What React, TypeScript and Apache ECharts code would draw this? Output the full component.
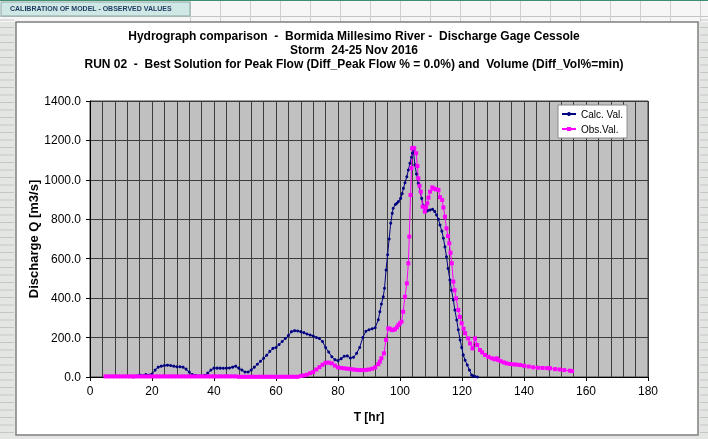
import React, { useEffect, useRef } from 'react';
import * as echarts from 'echarts';

const titleLines = [
  'Hydrograph comparison  -  Bormida Millesimo River -  Discharge Gage Cessole',
  'Storm  24-25 Nov 2016',
  'RUN 02  -  Best Solution for Peak Flow (Diff_Peak Flow % = 0.0%) and  Volume (Diff_Vol%=min)',
];
const sheetTab = 'CALIBRATION OF MODEL - OBSERVED VALUES';
const seriesNames = ['Calc. Val.', 'Obs.Val.'];
const xAxisTitle = 'T [hr]';
const yAxisTitle = 'Discharge Q [m3/s]';

const calcT = [14,15,16,18,20,21,22,23,24,25,26,27,28,29,30,31,32,33,34,35,36,37,38,39,40,41,42,43,44,45,46,47,48,49,50,51,52,53,54,55,56,57,58,59,60,61,62,63,64,65,66,67,68,69,70,71,72,73,74,75,76,77,78,79,80,81,82,83,84,85,86,87,88,89,90,91,92,93,93.5,94,94.6,95,95.5,96,96.5,97,97.5,97.8,98.5,99,99.5,100.2,100.7,101.1,101.6,102.2,102.7,103.2,103.7,104,104.3,104.8,105.3,105.9,106.5,107,107.5,108,108.5,109,109.7,110.5,111.2,111.8,112.4,112.9,113.5,114,114.5,115,115.5,116.1,116.6,117.2,117.7,118.3,118.8,119.4,119.9,120.4,121,121.7,122.4,123.1,123.6,124.2,125];
const calcQ = [0,5,10,12,15,35,50,55,58,60,58,55,52,52,50,40,25,12,8,5,5,8,20,35,45,45,45,44,45,46,50,55,45,35,25,25,35,50,65,80,95,110,130,145,150,165,180,195,210,230,235,233,230,225,218,213,208,200,195,180,150,127,103,88,83,93,105,107,96,100,120,150,200,232,240,245,250,290,331,370,407,450,543,620,700,780,830,856,875,881,890,906,930,957,985,1016,1050,1084,1115,1135,1152,1076,1030,982,940,906,870,839,840,845,847,851,840,822,800,771,740,704,660,610,550,492,440,391,340,289,240,188,150,112,85,61,35,10,5,2,0];

const obsT = [5,6,7,8,9,10,11,12,13,14,15,16,17,18,19,20,21,22,23,24,25,26,27,28,29,30,31,32,33,34,35,36,37,38,39,40,41,42,43,44,45,46,47,48,49,50,51,52,53,54,55,56,57,58,59,60,61,62,63,64,65,66,67,68,69,70,71,72,73,74,75,76,77,78,79,80,81,82,83,84,85,86,87,88,89,90,91,92,93,93.5,94,94.8,95.5,96.2,96.7,97.3,97.8,98.4,99,99.5,100,100.5,101,101.6,102.2,102.7,103,103.4,103.7,103.9,104.2,104.6,105.2,105.6,105.9,106.3,106.7,107.3,108,108.4,108.8,109.2,109.7,110.4,111,111.6,112.4,112.9,113.6,114,114.5,115,115.5,115.9,116.3,116.7,117.2,117.6,118.1,118.8,119.3,119.9,120.5,121,122,122.6,123.4,124.2,124.9,125.8,126.5,127.4,128.5,129.6,130.5,131.2,131.7,132.5,133.5,134.4,135.5,136.5,137.5,138.7,140,141.5,143,144.5,146,147.5,148.4,150,151.5,153,154.8,155.5];
const obsQ = [3,3,3,3,3,3,3,3,3,3,3,3,3,3,3,3,3,3,3,3,3,3,3,3,3,3,3,3,3,3,3,3,3,3,3,3,3,3,3,3,3,3,3,1,1,1,1,1,1,1,1,1,1,1,1,1,1,1,1,1,1,1,1,5,8,12,19,25,38,50,62,72,73,69,58,49,46,44,42,40,38,36,35,35,36,38,42,49,65,78,95,120,188,247,245,238,240,242,252,264,272,281,331,407,475,577,712,923,1060,1160,1162,1160,1135,1070,1008,970,940,864,839,860,881,910,940,962,955,952,949,912,898,860,813,754,715,678,630,577,484,440,399,340,305,272,245,222,196,170,145,196,162,137,125,112,102,95,90,95,86,80,74,69,66,64,63,61,57,53,49,47,46,45,44,40,38,35,32,30];

const FONT = '"Liberation Sans", Arial, sans-serif';
const GRID_COLOR = '#3c3c3c';

function zip(t: number[], q: number[]) {
  return t.map((v, i) => [v, q[i]]);
}

function frameGraphics() {
  const els: any[] = [];
  els.push({ type: 'rect', z: -20, shape: { x: 0, y: 0, width: 708, height: 439 }, style: { fill: '#e4e6e4' } });
  els.push({ type: 'rect', z: -19, shape: { x: 0, y: 0, width: 708, height: 22 }, style: { fill: '#f6f6f6' } });
  els.push({ type: 'line', z: -18, shape: { x1: 0, y1: 0.5, x2: 708, y2: 0.5 }, style: { stroke: '#3f8f6f', lineWidth: 1 } });
  els.push({ type: 'line', z: -18, shape: { x1: 0, y1: 16.5, x2: 708, y2: 16.5 }, style: { stroke: '#c4c4c4', lineWidth: 1 } });
  for (let x = 190; x < 708; x += 30) {
    els.push({ type: 'line', z: -18, shape: { x1: x + 0.5, y1: 1, x2: x + 0.5, y2: 22 }, style: { stroke: '#cfcfcf', lineWidth: 1 } });
  }
  for (let y = 20; y < 439; y += 7.5) {
    els.push({ type: 'line', z: -18, shape: { x1: 0, y1: y, x2: 14, y2: y }, style: { stroke: '#c6c6c6', lineWidth: 1 } });
    els.push({ type: 'line', z: -18, shape: { x1: 700, y1: y, x2: 708, y2: y }, style: { stroke: '#c6c6c6', lineWidth: 1 } });
  }
  els.push({ type: 'rect', z: -17, shape: { x: 1, y: 2, width: 189, height: 14 }, style: { fill: '#cfe8e6', stroke: '#8aa7a5', lineWidth: 1 } });
  els.push({ type: 'text', z: -16, x: 10, y: 5, style: { text: sheetTab, font: 'bold 7px "Liberation Sans", Arial, sans-serif', fill: '#1f3a5f' } });
  els.push({ type: 'rect', z: -15, shape: { x: 16, y: 22, width: 682, height: 413 }, style: { fill: '#ffffff', stroke: '#7f7f7f', lineWidth: 1.5 } });
  return els;
}

export default function App() {
  const ref = useRef<HTMLDivElement>(null);
  useEffect(() => {
    if (!ref.current) return;
    const chart = echarts.init(ref.current, null, { renderer: 'svg' });
    chart.setOption({
      animation: false,
      graphic: { elements: frameGraphics() },
      title: titleLines.map((t, i) => ({
        text: t,
        left: 'center',
        top: [30, 44, 58][i],
        padding: 0,
        textStyle: { fontSize: 12, fontWeight: 'bold', fontFamily: FONT, color: '#000' },
      })),
      legend: {
        orient: 'vertical',
        left: 558,
        top: 105,
        padding: [4, 4, 4, 3],
        itemGap: 5,
        itemWidth: 14,
        itemHeight: 5,
        backgroundColor: '#ffffff',
        borderColor: '#8a8a8a',
        borderWidth: 1,
        borderRadius: 0,
        textStyle: { fontSize: 10, fontFamily: FONT, color: '#000' },
        data: seriesNames,
      },
      grid: {
        left: 90,
        right: 60,
        top: 101,
        bottom: 62,
        show: true,
        backgroundColor: '#c0c0c0',
        borderColor: GRID_COLOR,
        borderWidth: 1,
      },
      xAxis: {
        type: 'value',
        min: 0,
        max: 180,
        interval: 20,
        name: xAxisTitle,
        nameLocation: 'middle',
        nameGap: 34,
        nameTextStyle: { fontSize: 12, fontWeight: 'bold', fontFamily: FONT, color: '#000' },
        axisLine: { show: true, lineStyle: { color: '#000', width: 1 } },
        axisTick: { show: true, length: 4, lineStyle: { color: '#000' } },
        axisLabel: { fontSize: 12, fontFamily: FONT, color: '#000', margin: 8 },
        splitLine: { show: true, lineStyle: { color: GRID_COLOR, width: 1 } },
        minorTick: { show: false, splitNumber: 5 },
        minorSplitLine: { show: true, lineStyle: { color: GRID_COLOR, width: 1 } },
      },
      yAxis: {
        type: 'value',
        min: 0,
        max: 1400,
        interval: 200,
        name: yAxisTitle,
        nameLocation: 'middle',
        nameGap: 50,
        nameMoveOverlap: false,
        nameRotate: 90,
        nameTextStyle: { fontSize: 13, fontWeight: 'bold', fontFamily: FONT, color: '#000' },
        axisLine: { show: true, lineStyle: { color: '#000', width: 1 } },
        axisTick: { show: true, length: 4, lineStyle: { color: '#000' } },
        axisLabel: { fontSize: 12, fontFamily: FONT, color: '#000', margin: 9, formatter: (v: number) => v.toFixed(1) },
        splitLine: { show: true, lineStyle: { color: GRID_COLOR, width: 1 } },
      },
      series: [
        {
          name: seriesNames[0],
          type: 'line',
          data: zip(calcT, calcQ),
          symbol: 'circle',
          symbolSize: 3,
          showAllSymbol: true,
          color: '#000080',
          lineStyle: { color: '#000080', width: 1 },
          itemStyle: { color: '#000080' },
        },
        {
          name: seriesNames[1],
          type: 'line',
          data: zip(obsT, obsQ),
          symbol: 'rect',
          symbolSize: 4,
          showAllSymbol: true,
          color: '#ff00ff',
          lineStyle: { color: '#ff00ff', width: 1 },
          itemStyle: { color: '#ff00ff' },
        },
      ],
    });
    return () => chart.dispose();
  }, []);
  return <div ref={ref} style={{ position: 'fixed', left: 0, top: 0, width: 708, height: 439 }} />;
}
